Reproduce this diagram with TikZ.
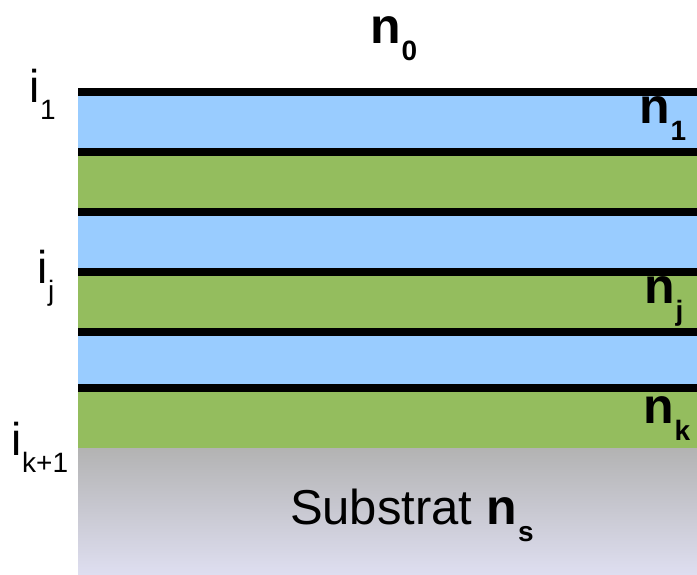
\documentclass[tikz,border=0pt]{standalone}
\usepackage{fontspec}
\setmainfont{Liberation Sans}
\definecolor{layblue}{RGB}{153,204,255}
\definecolor{laygreen}{RGB}{148,189,94}
\definecolor{subtop}{RGB}{179,179,179}
\definecolor{subbot}{RGB}{222,222,240}
\newcommand{\mainsz}{\fontsize{46}{46}\selectfont}
\newcommand{\substsz}{\fontsize{49}{49}\selectfont}
\newcommand{\nsz}{\fontsize{50}{50}\selectfont\bfseries}
\newcommand{\subsz}{\fontsize{28}{28}\selectfont}
\newcommand{\nlab}[1]{{\nsz n}\hspace{1pt}\raisebox{-17pt}{\subsz\bfseries #1}}
\newcommand{\ilab}[1]{{\mainsz i}\hspace{1pt}\raisebox{-17pt}{\subsz #1}}
\begin{document}
\begin{tikzpicture}[x=1pt,y=-1pt,
  lab/.style={anchor=base west,inner sep=0pt,outer sep=0pt},
  sep/.style={line width=8pt,black}]
\useasboundingbox (0,0) rectangle (697,574);
\fill[white] (0,0) rectangle (697,574);
% layers
\fill[layblue]  (78,92) rectangle (697,152);
\fill[laygreen] (78,152) rectangle (697,212);
\fill[layblue]  (78,212) rectangle (697,272);
\fill[laygreen] (78,272) rectangle (697,332);
\fill[layblue]  (78,332) rectangle (697,388);
\fill[laygreen] (78,388) rectangle (697,448);
\shade[top color=subtop,bottom color=subbot] (78,448) rectangle (697,574);
% interfaces
\foreach \yy in {92,152,212,272,332,388}
  \draw[sep] (78,\yy) -- (697,\yy);
% labels
\node[lab] (n0) at (370,43) {\nlab{0}};
\node[lab] (n1) at (639,123) {\nlab{1}};
\node[lab] (nj) at (644,303) {\nlab{j}};
\node[lab] (nk) at (643,423) {\nlab{k}};
\node[lab] (i1) at (29,102) {\ilab{1}};
\node[lab] (ij) at (37,283) {\ilab{j}};
\node[lab] (ik) at (11,455) {\ilab{k+1}};
\node[lab] (ns) at (290,524) {{\substsz Substrat\hspace{14pt}}\nlab{s}};
\end{tikzpicture}
\end{document}
